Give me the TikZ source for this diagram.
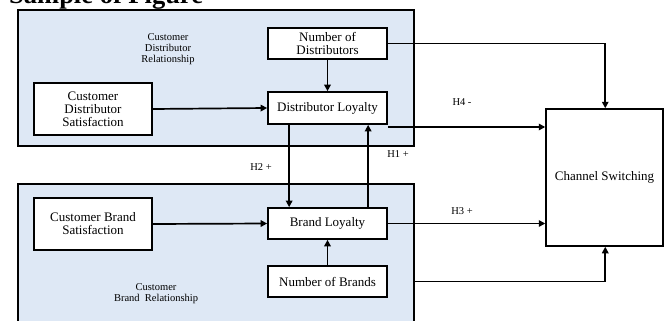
\documentclass[tikz,border=0pt]{standalone}
\usepackage{fontspec}
\setmainfont{Liberation Serif}
\usetikzlibrary{arrows.meta,positioning,calc}
\definecolor{panel}{RGB}{222,232,245}
\begin{document}
\begin{tikzpicture}[x=1pt,y=-1pt,
  every node/.style={inner sep=0pt},
  box/.style={draw=black,line width=1.7pt,fill=white,align=center,font=\fontsize{13}{13}\selectfont},
  panelbox/.style={draw=black,line width=1.7pt,fill=panel},
  small/.style={align=center,font=\fontsize{10.5}{11}\selectfont},
  hlabel/.style={font=\fontsize{10.5}{12}\selectfont},
  conn/.style={line width=1.7pt,-{Triangle[length=6.5pt,width=6.5pt]}}]
\useasboundingbox (0,0) rectangle (664,321);
% title
\node[anchor=base west,font=\fontsize{26.5}{30}\selectfont\bfseries] (title) at (9,4) {Sample of Figure};
% containers
\node[panelbox,minimum width=396pt,minimum height=136pt,anchor=north west] (upper) at (17,9) {};
\node[panelbox,minimum width=396pt,minimum height=150pt,anchor=north west] (lower) at (17,183) {};
% labels in containers
\node[small] (cdr) at (168,49) {Customer\\Distributor\\Relationship};
\node[small] (cbr) at (156,294) {Customer\\Brand\enspace Relationship};
% boxes
\node[box,minimum width=119pt,minimum height=31pt] (nod) at (327.5,43.5) {Number of\\Distributors};
\node[box,minimum width=119pt,minimum height=32pt] (dl) at (327.5,108) {Distributor Loyalty};
\node[box,minimum width=118pt,minimum height=52pt] (cds) at (93,109) {Customer\\Distributor\\Satisfaction};
\node[box,minimum width=118pt,minimum height=52pt] (cbs) at (93,224) {Customer Brand\\Satisfaction};
\node[box,minimum width=119pt,minimum height=31pt] (bl) at (327.5,223.5) {Brand Loyalty};
\node[box,minimum width=119pt,minimum height=31pt] (nob) at (327.5,281.5) {Number of Brands};
\node[draw=black,line width=1.5pt,fill=white,minimum width=117pt,minimum height=137pt,font=\fontsize{13}{14}\selectfont] (cs) at (604.5,177.5) {Channel Switching};
% hypothesis labels
\node[hlabel] (h1) at (398,154) {H1 +};
\node[hlabel] (h2) at (261,167) {H2 +};
\node[hlabel] (h3) at (462,211) {H3 +};
\node[hlabel] (h4) at (462,102) {H4 -};
% connectors
\draw[conn] (cds.east) -- (dl.west);
\draw[conn] (nod.south) -- (dl.north);
\draw[conn] (cbs.east) -- (bl.west);
\draw[conn] (nob.north) -- (bl.south);
\coordinate (dlo) at ($(dl.south west)+(22,0)$);
\draw[conn] (dlo) -- (dlo |- bl.north);
\coordinate (blo) at ($(bl.north west)+(101,0)$);
\draw[conn] (blo) -- (blo |- dl.south);
\coordinate (csn) at ($(cs.north west)+(60,0)$);
\draw[conn] (nod.east) -| (csn);
\coordinate (h4s) at ($(dl.east)+(0,19)$);
\draw[conn] (h4s) -- (h4s -| cs.west);
\draw[conn] (bl.east) -- (bl.east -| cs.west);
\coordinate (nobs) at (nob.east -| upper.east);
\coordinate (css) at ($(cs.south west)+(60,0)$);
\draw[conn] (nobs) -| (css);
\end{tikzpicture}
\end{document}
